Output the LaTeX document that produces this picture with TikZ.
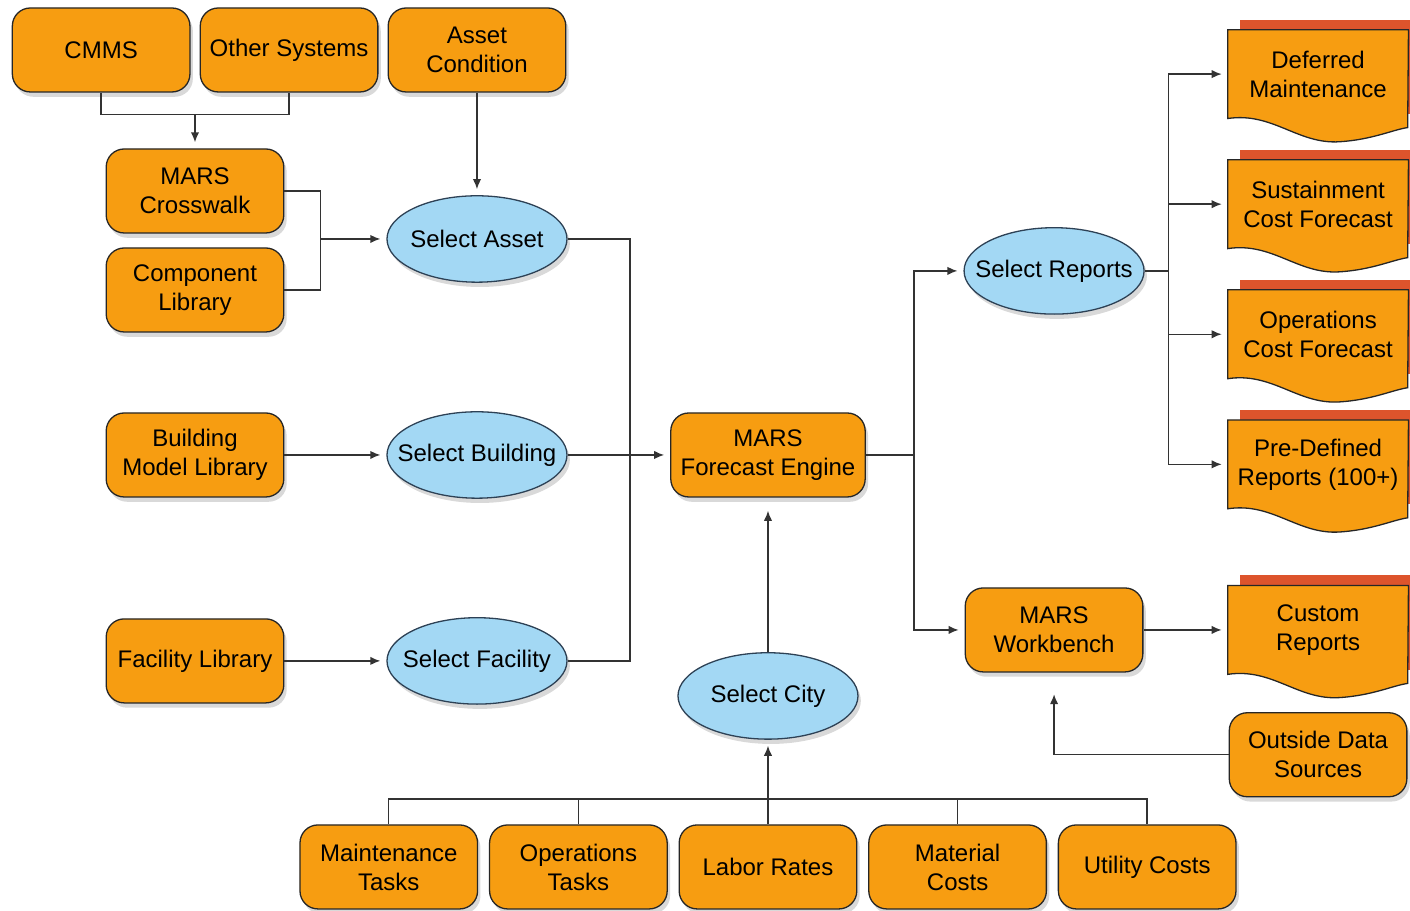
\documentclass[12pt,tikz,border=0pt]{standalone}
\usepackage{fontspec}
\setmainfont{Liberation Sans}
\usepackage{xcolor}
\usepackage{tikz}
\usetikzlibrary{calc, arrows, arrows.meta, shapes, shadows, backgrounds, positioning}
\definecolor{boxorange}{RGB}{247,157,17}
\definecolor{ovalblue}{RGB}{163,216,244}
\definecolor{ovalline}{RGB}{45,65,85}
\definecolor{stripred}{RGB}{221,84,44}
\tikzset{
    boxnode/.style = {draw=black!85, fill=boxorange, rectangle, rounded corners=0.75em, line width=0.65pt,
      minimum width=7.4em, minimum height=3.5em, inner sep=0.2em, node distance=0em,
      drop shadow={shadow xshift=0.12em, shadow yshift=-0.2em, opacity=0.3}},
    ovalnode/.style = {draw=ovalline, fill=ovalblue, ellipse, line width=0.65pt, inner xsep=-2em, inner ysep=0em,
      minimum width=7.5em, minimum height=3.6em, node distance=0em,
      drop shadow={shadow xshift=0.12em, shadow yshift=-0.2em, opacity=0.3}},
    docnode/.style = {draw=none, rectangle, minimum width=7.5em, minimum height=3.67em, inner sep=0em, node distance=0em},
    docline/.style = {draw=black!85, fill=boxorange, line width=0.65pt},
    connect/.style = {black!80, line width=0.7pt, -{Latex[length=5pt, width=4.2pt]}, shorten >=0.25em},
    wire/.style = {black!80, line width=0.7pt},
    every text node part/.style={align=center}
}
% report sheet behind a docnode
\newcommand{\docpaper}[1]{%
  \begin{pgfonlayer}{background}
    \fill[stripred] ($(#1.north west)+(0.5em,0.42em)$) rectangle ($(#1.north east)+(0.5em,-3.5em)$);
    \draw[docline] (#1.north west) -- (#1.north east) -- ($(#1.north west)+(7.5em,-4.08em)$)
      .. controls ($(#1.north west)+(6.875em,-4.17em)$) and ($(#1.north west)+(6.04em,-4.58em)$) .. ($(#1.north west)+(4.67em,-4.67em)$)
      .. controls ($(#1.north west)+(2.92em,-4.79em)$) and ($(#1.north west)+(1.875em,-3.42em)$) .. (#1.south west) -- cycle;
  \end{pgfonlayer}
}

\begin{document}
\begin{tikzpicture}
    \useasboundingbox (-32em, -19em) rectangle (26.75em, 18.958em);

    \node [name=engine, boxnode, minimum width=8.1em] {MARS\\Forecast Engine};
    \node [name=selbuild, ovalnode, left of=engine, xshift=-12.125em] {Select Building};
    \node [name=building, boxnode, left of=selbuild, xshift=-11.75em] {Building\\Model Library};
    \node [name=selasset, ovalnode, above of=selbuild, yshift=9em] {Select Asset};
    \node [name=selfac, ovalnode, below of=selbuild, yshift=-8.58em] {Select Facility};
    \node [name=facility, boxnode, left of=selfac, xshift=-11.75em] {Facility Library};
    \node [name=crosswalk, boxnode, above of=building, yshift=11em] {MARS\\Crosswalk};
    \node [name=complib, boxnode, below of=crosswalk, yshift=-4.125em] {Component\\Library};
    \node [name=cond, boxnode, above of=selasset, yshift=7.875em] {Asset\\Condition};
    \node [name=other, boxnode, left of=cond, xshift=-7.83em] {Other Systems};
    \node [name=cmms, boxnode, left of=other, xshift=-7.83em] {CMMS};

    \node [name=selcity, ovalnode, below of=engine, yshift=-10.04em] {Select City};
    \node [name=labor, boxnode, below of=selcity, yshift=-7.125em] {Labor Rates};
    \node [name=opstask, boxnode, left of=labor, xshift=-7.9em] {Operations\\Tasks};
    \node [name=maint, boxnode, left of=opstask, xshift=-7.9em] {Maintenance\\Tasks};
    \node [name=material, boxnode, right of=labor, xshift=7.9em] {Material\\Costs};
    \node [name=utility, boxnode, right of=material, xshift=7.9em] {Utility Costs};

    \node [name=selrep, ovalnode, right of=engine, xshift=11.92em, yshift=7.67em] {Select Reports};
    \node [name=workbench, boxnode, below of=selrep, yshift=-14.96em] {MARS\\Workbench};
    \node [name=deferred, docnode, right of=selrep, xshift=11em, yshift=8.2em] {Deferred\\Maintenance};
    \node [name=sustain, docnode, below of=deferred, yshift=-5.42em] {Sustainment\\Cost Forecast};
    \node [name=opsfc, docnode, below of=sustain, yshift=-5.42em] {Operations\\Cost Forecast};
    \node [name=predef, docnode, below of=opsfc, yshift=-5.42em] {Pre-Defined\\Reports (100+)};
    \node [name=custom, docnode, right of=workbench, xshift=11em] {Custom\\Reports};
    \node [name=outside, boxnode, below of=custom, yshift=-5.2em] {Outside Data\\Sources};
    \foreach \d in {deferred, sustain, opsfc, predef, custom} \docpaper{\d};

    \coordinate (sysjoin) at ($(crosswalk.north)+(0em, 1.42em)$);
    \coordinate (libjoin) at ($(crosswalk.east |- selasset.west)+(1.5em, 0em)$);
    \coordinate (assetjoin) at ($(selasset.east)+(2.6em, 0em)$);
    \coordinate (cityjoin) at ($(labor.north)+(0em, 1.05em)$);
    \coordinate (enginejoin) at ($(engine.east)+(2em, 0em)$);
    \coordinate (repjoin) at ($(selrep.east)+(1em, 0em)$);

    \draw [wire] (cmms.south) |- (sysjoin) -| (other.south);
    \draw (sysjoin) edge[connect] (crosswalk);
    \draw (cond) edge[connect] (selasset);
    \draw [wire] (crosswalk.east) -| (libjoin) |- (complib.east);
    \draw (libjoin) edge[connect] (selasset);
    \draw (building) edge[connect] (selbuild);
    \draw (facility) edge[connect] (selfac);
    \draw [wire] (selasset.east) -- (assetjoin) |- (selfac.east);
    \draw (selbuild) edge[connect] (engine);

    \draw [wire] (maint.north) |- (cityjoin) -| (utility.north);
    \draw [wire] (opstask.north) -- (opstask.north |- cityjoin);
    \draw [wire] (material.north) -- (material.north |- cityjoin);
    \draw [wire] (labor.north) -- (cityjoin);
    \draw (cityjoin) edge[connect] (selcity);
    \draw (selcity) edge[connect, shorten >=0.55em] (engine);

    \draw [wire] (engine.east) -- (enginejoin);
    \draw [connect] (enginejoin) |- (selrep.west);
    \draw [connect] (enginejoin) |- (workbench.west);
    \draw [wire] (selrep.east) -- (repjoin);
    \foreach \d in {deferred, sustain, opsfc, predef} \draw [connect] (repjoin) |- (\d.west);
    \draw (workbench) edge[connect] (custom);
    \draw [connect, shorten >=0.9em] (outside.west) -| (workbench.south);
\end{tikzpicture}
\end{document}
